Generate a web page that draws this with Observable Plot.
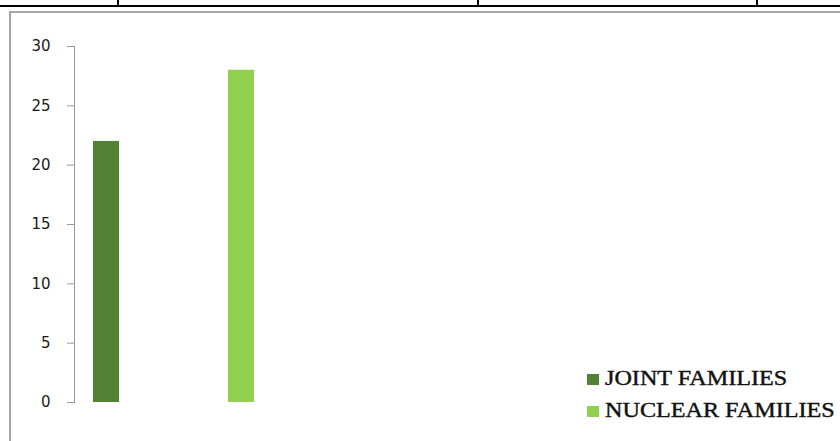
<!DOCTYPE html>
<html>
<head>
<meta charset="utf-8">
<script src="https://cdn.jsdelivr.net/npm/d3@7"></script>
<script src="https://cdn.jsdelivr.net/npm/@observablehq/plot@0.6"></script>
<style>
  html, body { margin: 0; padding: 0; background: #fff; }
  #page { position: relative; width: 840px; height: 441px; overflow: hidden; background: #fff; }
  #topline { position: absolute; left: 0; top: 5px; width: 840px; height: 2px; background: #000; }
  .vdiv { position: absolute; top: 0; width: 2px; height: 6px; background: #000; }
  #frame { position: absolute; left: 9px; top: 11px; width: 840px; height: 440px;
           border-left: 2px solid #a6a6a6; border-top: 2px solid #a6a6a6; }
  #chart { position: absolute; left: 0; top: 0; }
  #legend { position: absolute; left: 587px; top: 362px; font-family: "Liberation Serif", "Times New Roman", serif;
            font-size: 21px; color: #111; -webkit-text-stroke: 0.4px #111; }
  .item { display: flex; align-items: center; height: 32px; white-space: nowrap; }
  .sw { width: 12px; height: 11px; margin-right: 6px; margin-top: 2px; }
  .lbl { display: inline-block; transform: scaleX(1.15); transform-origin: 0 50%; }
</style>
</head>
<body>
<div id="page">
  <div id="topline"></div>
  <div class="vdiv" style="left:117px"></div>
  <div class="vdiv" style="left:477px"></div>
  <div class="vdiv" style="left:756px"></div>
  <div id="frame"></div>
  <div id="chart"></div>
  <div id="legend"></div>
</div>
<script>
const categories = ["JOINT FAMILIES", "NUCLEAR FAMILIES"];
const values = [22, 28];
const colors = ["#548235", "#92d050"];
const yTicks = [0, 5, 10, 15, 20, 25, 30];

const data = categories.map((c, i) => ({category: c, value: values[i]}));

const plot = Plot.plot({
  width: 840,
  height: 441,
  marginLeft: 74,
  marginTop: 46,
  marginBottom: 39,
  marginRight: 0,
  style: {background: "transparent", overflow: "visible"},
  x: {type: "band", domain: categories, range: [74, 273], paddingInner: 0.811, paddingOuter: 0.138, axis: null},
  y: {domain: [0, 30], ticks: yTicks},
  color: {domain: categories, range: colors},
  marks: [
    Plot.barY(data, {x: "category", y: "value", fill: "category"}),
    Plot.axisY({ticks: yTicks, tickSize: 7, tickPadding: 17, stroke: "#9a9a9a", label: null,
      fill: "#1a1a1a", fontSize: 15, fontFamily: "DejaVu Sans"}),
    Plot.frame({anchor: "left", stroke: "#9a9a9a"})
  ]
});
plot.querySelectorAll("text").forEach(t => t.setAttribute("font-family", "DejaVu Sans"));
document.getElementById("chart").appendChild(plot);

const legend = document.getElementById("legend");
categories.forEach((c, i) => {
  const item = document.createElement("div");
  item.className = "item";
  const sw = document.createElement("span");
  sw.className = "sw";
  sw.style.background = colors[i];
  const label = document.createElement("span");
  label.className = "lbl";
  label.textContent = c;
  item.appendChild(sw);
  item.appendChild(label);
  legend.appendChild(item);
});
</script>
</body>
</html>
